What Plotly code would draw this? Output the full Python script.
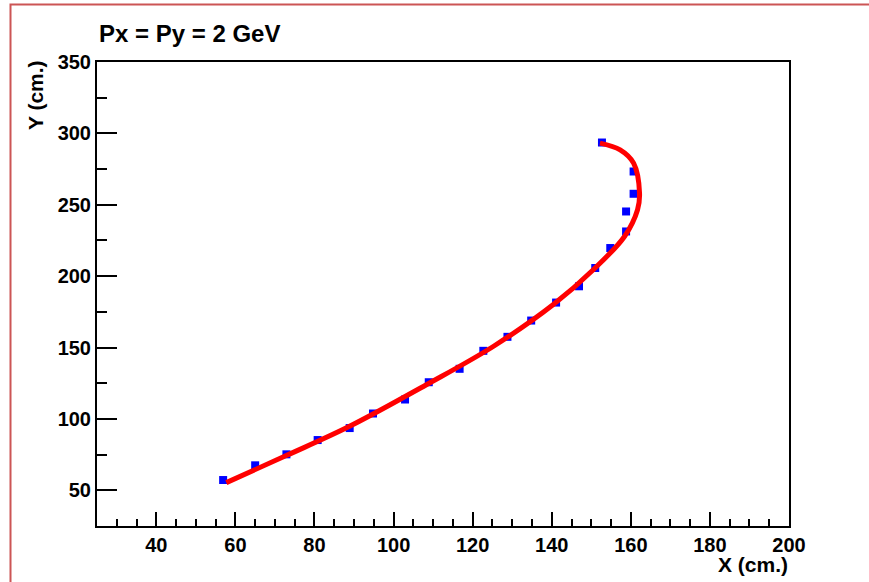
import plotly.graph_objects as go

# Measured hits (cm)
hit_x = [56.9, 65.0, 72.9, 80.8, 88.9, 94.8, 102.9, 108.9, 116.7, 122.7, 128.8,
         134.8, 141.1, 146.9, 151.0, 154.8, 158.8, 158.8, 160.7, 160.7, 152.7]
hit_y = [57.2, 67.5, 75.2, 85.2, 93.6, 103.8, 113.6, 125.7, 135.1, 147.7, 157.5,
         168.9, 181.5, 192.9, 205.7, 219.7, 231.3, 245.3, 257.7, 273.3, 293.6]

# Fitted track (cm)
fit_x = [57.7, 73.0, 89.0, 108.4, 125.3, 140.4, 150.5, 158.4, 161.7, 162.2, 160.7, 157.3, 152.2]
fit_y = [55.4, 74.5, 95.0, 124.1, 150.9, 180.1, 204.5, 227.8, 246.5, 258.2, 279.2, 288.5, 293.2]

title_text = "Px = Py = 2 GeV"
x_title = "X (cm.)"
y_title = "Y (cm.)"

FONT = "Liberation Sans, Arial, sans-serif"

fig = go.Figure()
fig.add_trace(go.Scatter(x=hit_x, y=hit_y, mode="markers",
                         marker=dict(symbol="square", size=8, color="#0000ff",
                                     line=dict(width=0)),
                         showlegend=False, cliponaxis=False))
fig.add_trace(go.Scatter(x=fit_x, y=fit_y, mode="lines",
                         line=dict(color="#ff0000", width=5, shape="spline", smoothing=1.0),
                         showlegend=False))

axis_common = dict(
    showgrid=False, zeroline=False, showline=True, linecolor="black", linewidth=2,
    mirror=True, ticks="inside", tickcolor="black", tickwidth=2,
    tickfont=dict(family=FONT, size=20, color="black", weight="bold"),
)

fig.update_xaxes(range=[25, 200], tick0=0, dtick=20, ticklen=14,
                 minor=dict(dtick=5, tick0=0, ticklen=7, tickwidth=2, tickcolor="black", ticks="inside"),
                 **axis_common)
fig.update_yaxes(range=[25, 350], tick0=0, dtick=50, ticklen=20,
                 minor=dict(dtick=25, tick0=0, ticklen=10, tickwidth=2, tickcolor="black", ticks="inside"),
                 **axis_common)

fig.update_layout(
    width=869, height=582,
    margin=dict(l=97, r=80, t=62, b=56),
    paper_bgcolor="white", plot_bgcolor="white",
    annotations=[
        dict(text=title_text, xref="paper", yref="paper", x=0.0, y=1.0625,
             xanchor="left", yanchor="middle", showarrow=False,
             font=dict(family=FONT, size=24, color="black", weight="bold")),
        dict(text=x_title, xref="paper", yref="paper", x=1.0014, y=-0.082,
             xanchor="right", yanchor="middle", showarrow=False,
             font=dict(family=FONT, size=21, color="black", weight="bold")),
        dict(text=y_title, xref="paper", yref="paper", x=-0.088, y=0.929,
             xanchor="center", yanchor="middle", showarrow=False, textangle=-90,
             font=dict(family=FONT, size=21, color="black", weight="bold")),
    ],
    shapes=[
        dict(type="rect", xref="paper", yref="paper", x0=-0.125, x1=1.2, y0=-0.2, y1=1.124,
             line=dict(color="#cc5555", width=2), fillcolor="rgba(0,0,0,0)", layer="below"),
    ],
)

fig.write_html("out.html", config={"displayModeBar": False},
               post_script="document.body.style.margin='0';")
